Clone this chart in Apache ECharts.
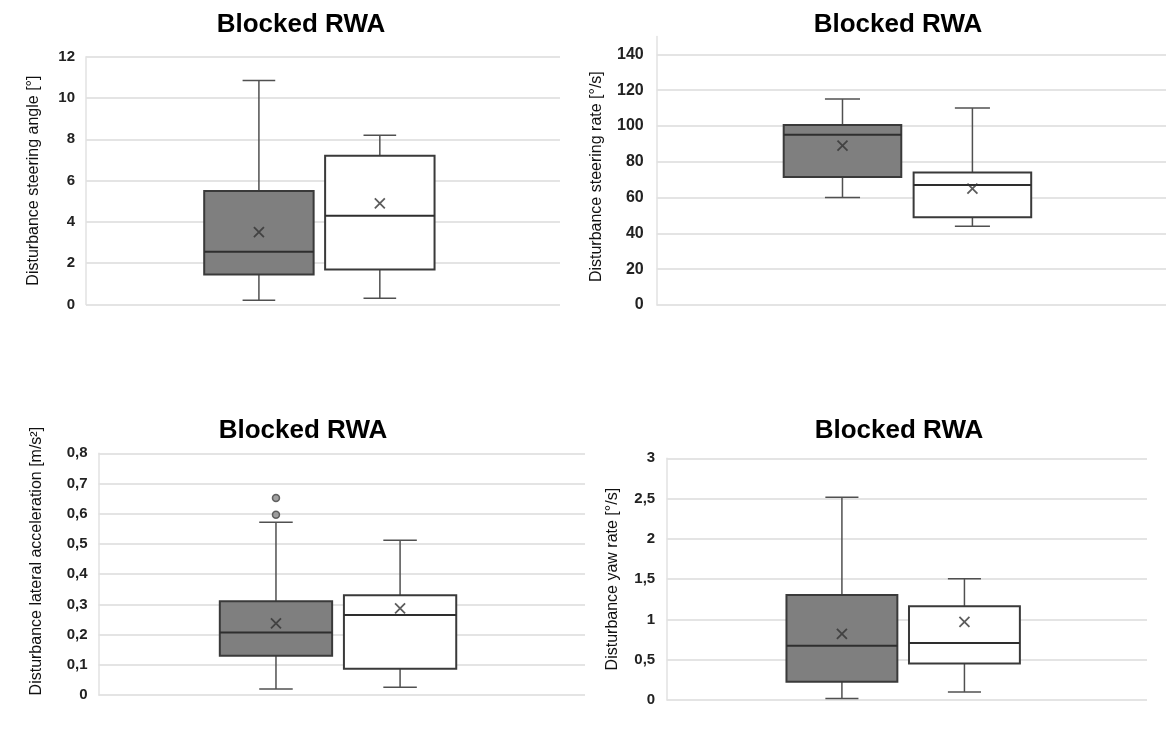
<!DOCTYPE html>
<html>
<head>
<meta charset="utf-8">
<script src="https://cdn.jsdelivr.net/npm/echarts@6/dist/echarts.min.js"></script>
<style>
  html, body { margin: 0; padding: 0; background: #ffffff; }
  #chart { width: 1176px; height: 740px; }
</style>
</head>
<body>
<div id="chart"></div>
<script>
// Five-number summaries: [min, Q1, median, Q3, max]; dark box first, light box second.
const panelTitle = 'Blocked RWA';

const angleDark = [0.2, 1.45, 2.55, 5.5, 10.85];
const angleLight = [0.3, 1.7, 4.3, 7.2, 8.2];
const angleMeans = [3.5, 4.9];
const angleTicks = [0, 12, 2];

const rateDark = [60, 71.5, 95, 100.5, 115];
const rateLight = [44, 49, 67, 74, 110];
const rateMeans = [89, 65];
const rateTicks = [0, 150, 20];

const latDark = [0.02, 0.13, 0.207, 0.31, 0.572];
const latLight = [0.026, 0.087, 0.265, 0.33, 0.512];
const latMeans = [0.237, 0.287];
const latOutliers = [0.597, 0.652];
const latTicks = [0, 0.8, 0.1];

const yawDark = [0.02, 0.225, 0.672, 1.302, 2.515];
const yawLight = [0.1, 0.452, 0.709, 1.165, 1.505];
const yawMeans = [0.82, 0.97];
const yawTicks = [0, 3, 0.5];

const axisNames = [
  'Disturbance steering angle [°]',
  'Disturbance steering rate [°/s]',
  'Disturbance lateral acceleration [m/s²]',
  'Disturbance yaw rate [°/s]'
];

// box body and whisker cap widths, in units of the (hidden) horizontal axis
const BOX_WIDTH = 0.905;
const CAP_WIDTH = 0.27;
const FONT = '"Liberation Sans", Arial, Helvetica, sans-serif';

const panels = [
  { dark: angleDark, light: angleLight, means: angleMeans, outliers: [], ticks: angleTicks,
    grid: { left: 86, top: 56.7, width: 474, height: 247.8 },
    titleX: 301, titleTop: 12, labelSize: 15, labelMargin: 11, nameGap: 44, namePad: [0, 0, 0, 0], hideMax: false },
  { dark: rateDark, light: rateLight, means: rateMeans, outliers: [], ticks: rateTicks,
    grid: { left: 656.7, top: 36.4, width: 509.3, height: 268.5 },
    titleX: 898, titleTop: 12, labelSize: 16, labelMargin: 13, nameGap: 52, namePad: [0, 12, 0, 0], hideMax: true },
  { dark: latDark, light: latLight, means: latMeans, outliers: latOutliers, ticks: latTicks,
    grid: { left: 98.5, top: 453.3, width: 486.5, height: 241.7 },
    titleX: 303, titleTop: 418, labelSize: 15, labelMargin: 11, nameGap: 54, namePad: [0, 0, 0, 26], hideMax: false },
  { dark: yawDark, light: yawLight, means: yawMeans, outliers: [], ticks: yawTicks,
    grid: { left: 666.7, top: 458.3, width: 480.3, height: 241.7 },
    titleX: 899, titleTop: 418, labelSize: 15, labelMargin: 11.5, nameGap: 46, namePad: [0, 0, 0, 0], hideMax: false }
];

function formatTick(v) {
  if (v === 0) return '0';
  return String(Math.round(v * 100) / 100).replace('.', ',');
}

function drawBox(params, api) {
  const x = api.value(0);
  const lo = api.coord([x, api.value(1)]);
  const q1 = api.coord([x, api.value(2)]);
  const md = api.coord([x, api.value(3)]);
  const q3 = api.coord([x, api.value(4)]);
  const hi = api.coord([x, api.value(5)]);
  const half = api.size([BOX_WIDTH, 0])[0] / 2;
  const cap = api.size([CAP_WIDTH, 0])[0] / 2;
  const cx = md[0];
  const whisker = { stroke: '#505050', lineWidth: 1.5 };
  return {
    type: 'group',
    children: [
      { type: 'line', shape: { x1: cx, y1: q3[1], x2: cx, y2: hi[1] }, style: whisker },
      { type: 'line', shape: { x1: cx, y1: q1[1], x2: cx, y2: lo[1] }, style: whisker },
      { type: 'line', shape: { x1: cx - cap, y1: hi[1], x2: cx + cap, y2: hi[1] }, style: whisker },
      { type: 'line', shape: { x1: cx - cap, y1: lo[1], x2: cx + cap, y2: lo[1] }, style: whisker },
      { type: 'rect', shape: { x: cx - half, y: q3[1], width: half * 2, height: q1[1] - q3[1] },
        style: { fill: api.visual('color'), stroke: '#3a3a3a', lineWidth: 2 } },
      { type: 'line', shape: { x1: cx - half, y1: md[1], x2: cx + half, y2: md[1] },
        style: { stroke: '#2e2e2e', lineWidth: 2 } }
    ]
  };
}

const option = {
  animation: false,
  backgroundColor: '#ffffff',
  title: [],
  grid: [],
  xAxis: [],
  yAxis: [],
  series: []
};

panels.forEach(function (p, i) {
  option.title.push({
    text: panelTitle,
    left: p.titleX,
    top: p.titleTop,
    textAlign: 'center',
    padding: 0,
    textStyle: { fontFamily: FONT, fontSize: 26, fontWeight: 'bold', color: '#000000' }
  });
  option.grid.push(Object.assign({ outerBoundsMode: 'none', containLabel: false }, p.grid));
  option.xAxis.push({ gridIndex: i, type: 'value', min: -1.43, max: 2.49, show: false });
  option.yAxis.push({
    gridIndex: i,
    type: 'value',
    position: 'left',
    min: p.ticks[0],
    max: p.ticks[1],
    interval: p.ticks[2],
    name: axisNames[i],
    nameLocation: 'middle',
    nameRotate: 90,
    nameGap: p.nameGap,
    nameTextStyle: { fontFamily: FONT, fontSize: 16, color: '#111111', padding: p.namePad },
    axisLine: { show: true, onZero: false, lineStyle: { color: '#e2e2e2', width: 1.5 } },
    axisTick: { show: false },
    axisLabel: {
      fontFamily: FONT, fontSize: p.labelSize, fontWeight: 'bold', color: '#222222',
      margin: p.labelMargin, padding: [4, 0, 0, 0],
      showMaxLabel: !p.hideMax,
      formatter: formatTick
    },
    splitLine: { show: true, showMaxLine: !p.hideMax, lineStyle: { color: '#e4e4e4', width: 2 } }
  });
  option.series.push({
    type: 'custom', xAxisIndex: i, yAxisIndex: i,
    itemStyle: { color: '#7f7f7f' },
    encode: { x: 0, y: [1, 2, 3, 4, 5] },
    renderItem: drawBox,
    data: [[0].concat(p.dark)]
  });
  option.series.push({
    type: 'custom', xAxisIndex: i, yAxisIndex: i,
    itemStyle: { color: '#ffffff' },
    encode: { x: 0, y: [1, 2, 3, 4, 5] },
    renderItem: drawBox,
    data: [[1].concat(p.light)]
  });
  option.series.push({
    type: 'scatter', xAxisIndex: i, yAxisIndex: i,
    symbol: 'path://M0,0L10,10M10,0L0,10',
    symbolSize: 10,
    itemStyle: { color: 'rgba(0,0,0,0)', borderColor: '#333333', borderWidth: 1.8 },
    data: p.means.map(function (m, k) { return [k, m]; })
  });
  if (p.outliers.length) {
    option.series.push({
      type: 'scatter', xAxisIndex: i, yAxisIndex: i,
      symbol: 'circle',
      symbolSize: 7,
      itemStyle: { color: '#8a8a8a', borderColor: '#444444', borderWidth: 1.5 },
      data: p.outliers.map(function (v) { return [0, v]; })
    });
  }
});

const chart = echarts.init(document.getElementById('chart'), null, { renderer: 'canvas' });
chart.setOption(option);
</script>
</body>
</html>
